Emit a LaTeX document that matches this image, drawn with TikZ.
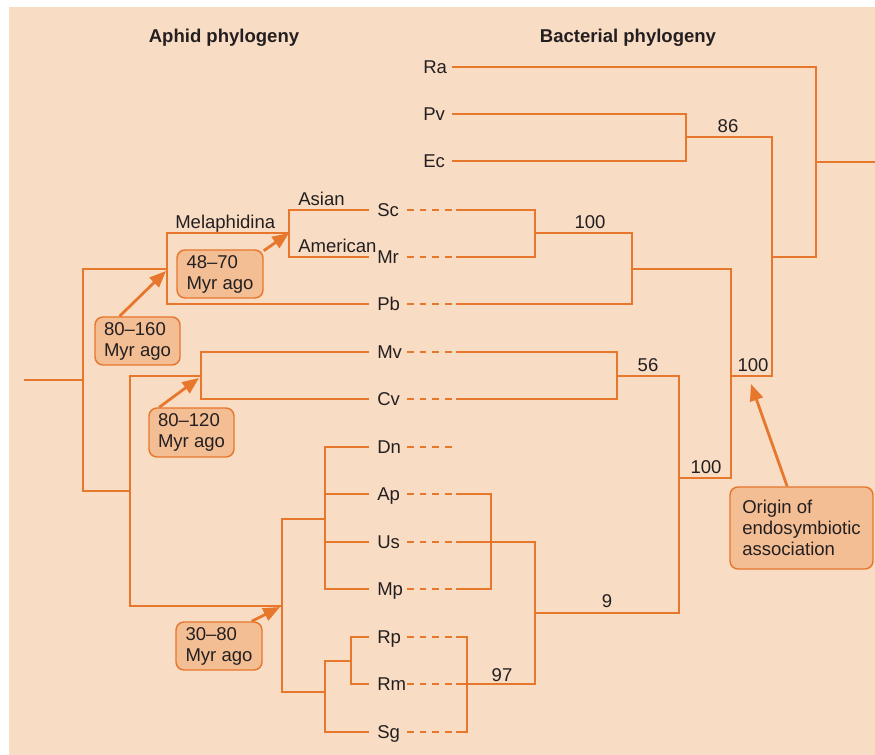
\documentclass[tikz,border=0pt]{standalone}
\usepackage{fontspec}
\setmainfont{Liberation Sans}
\usetikzlibrary{arrows.meta}
\definecolor{bg}{HTML}{F9DCC4}
\definecolor{ora}{HTML}{E8772E}
\definecolor{boxf}{HTML}{F3BE94}
\definecolor{txt}{HTML}{231F20}
\newcommand{\myfont}{\fontsize{13.9}{15.75}\selectfont}
\begin{document}
\begin{tikzpicture}[x=0.75pt,y=-0.75pt,
  tree/.style={draw=ora, line width=1.35pt, line cap=rect},
  dsh/.style={draw=ora, line width=1.35pt, dash pattern=on 4.9pt off 4.6pt},
  lab/.style={anchor=base west, inner sep=0pt, text=txt, font=\myfont},
  num/.style={anchor=base, inner sep=0pt, text=txt, font=\myfont},
  ttl/.style={anchor=base, inner sep=0pt, text=txt, font=\myfont\bfseries},
  agebox/.style={draw=ora, fill=boxf, line width=1.1pt, rounded corners=6pt, align=left, text=txt, font=\myfont, inner sep=0pt},
  arr/.style={draw=ora, line width=2.1pt, -{Triangle[length=12.5pt,width=10pt]}},
]
\useasboundingbox (0,0) rectangle (875,755);
\fill[bg] (9,7) rectangle (875,755);

% titles
\node[ttl] (tA) at (224,43) {Aphid phylogeny};
\node[ttl] (tB) at (628,43) {Bacterial phylogeny};

% leaf labels
\foreach \n/\y in {Sc/210,Mr/257,Pb/304,Mv/352,Cv/399,Dn/447,Ap/494,Us/542,Mp/589,Rp/637,Rm/684,Sg/732}{
  \node[lab] (\n) at (377,\y+6.5) {\n};
  \coordinate (\n-l) at (368,\y);
  \coordinate (\n-d) at (407,\y);
  \coordinate (\n-e) at (452,\y);
  \coordinate (\n-s) at (457,\y);
  \draw[dsh] (\n-d) -- (\n-e);
}
\foreach \n/\y in {Ra/67,Pv/114,Ec/161}{
  \node[lab] (\n) at (423,\y+6.5) {\n};
  \coordinate (\n-s) at (453,\y);
}

% aphid tree
\coordinate (aroot) at (25,380);
\draw[tree] (aroot) -- (83,380);
\draw[tree] (167,269) -| (83,491) -- (130,491);
\draw[tree] (Pb-l) -| (167,233) -- (289,233);
\draw[tree] (Sc-l) -| (289,257) -- (Mr-l);
\draw[tree] (Mv-l) -| (201,399) -- (Cv-l);
\draw[tree] (201,376) -| (130,606) -- (282,606);
\draw[tree] (282,519) -- (325,519);
\draw[tree] (282,519) -- (282,692) -- (325,692);
\draw[tree] (Dn-l) -| (325,589) -- (Mp-l);
\draw[tree] (325,494) -- (Ap-l);
\draw[tree] (325,542) -- (Us-l);
\draw[tree] (351,661) -| (325,732) -- (Sg-l);
\draw[tree] (Rp-l) -| (351,684) -- (Rm-l);

\node[lab] (mel) at (175,229) {Melaphidina};
\node[lab] (asi) at (298,206) {Asian};
\node[lab] (ame) at (298,253) {American};

% bacterial tree
\draw[tree] (Ra-s) -| (816,257) -- (772,257);
\coordinate (broot) at (875,162);
\draw[tree] (816,162) -- (broot);
\draw[tree] (Pv-s) -| (686,161) -- (Ec-s);
\draw[tree] (686,137) -| (772,376) -- (731,376);
\draw[tree] (Sc-s) -| (535,257) -- (Mr-s);
\draw[tree] (535,233) -| (632,304) -- (Pb-s);
\draw[tree] (632,269) -| (731,478) -- (679,478);
\draw[tree] (Mv-s) -| (617,399) -- (Cv-s);
\draw[tree] (617,376) -| (679,613) -- (535,613);
\draw[tree] (Ap-s) -| (491,589) -- (Mp-s);
\draw[tree] (Us-s) -| (535,684) -- (Rm-s);
\draw[tree] (Rp-s) -| (467,732) -- (Sg-s);

% support values
\node[num] (n86) at (728,133) {86};
\node[num] (n100a) at (590,229) {100};
\node[num] (n56) at (648,372) {56};
\node[num] (n100b) at (753,372) {100};
\node[num] (n100c) at (706,474) {100};
\node[num] (n9) at (607,607) {9};
\node[num] (n97) at (502,681) {97};

% age boxes
\node[agebox, minimum width=64.5pt, minimum height=36pt] (b1) at (220,274) {48–70\\Myr ago};
\node[agebox, minimum width=63.75pt, minimum height=36pt] (b2) at (137.5,341) {80–160\\Myr ago};
\node[agebox, minimum width=63.75pt, minimum height=36.75pt] (b3) at (191.5,432.5) {80–120\\Myr ago};
\node[agebox, minimum width=64.5pt, minimum height=36pt] (b4) at (219,646) {30–80\\Myr ago};
\node[agebox, minimum width=107.25pt, minimum height=61.5pt] (b5) at (801.5,528) {Origin of\\endosymbiotic\\association};

\coordinate (t1) at (289,233);
\coordinate (t2) at (166,271);
\coordinate (t3) at (199,378);
\coordinate (t4) at (280,607);
\coordinate (t5) at (751,384);
\draw[arr] (b1.28) -- (t1);
\draw[arr] (b2.126) -- (t2);
\draw[arr] (b3.142) -- (t3);
\draw[arr] (b4.37) -- (t4);
\draw[arr] (b5.109.5) -- (t5);
\end{tikzpicture}
\end{document}
